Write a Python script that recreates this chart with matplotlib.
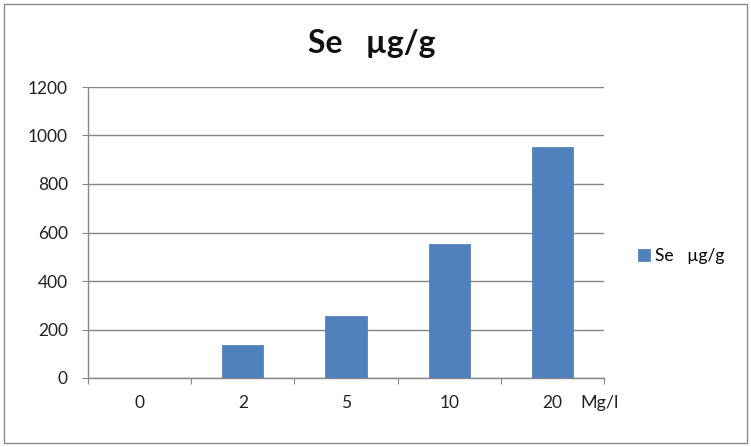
import matplotlib
matplotlib.use("Agg")
import matplotlib.pyplot as plt
from matplotlib.patches import Rectangle

categories = ["0", "2", "5", "10", "20"]
values = [0, 136, 256, 553, 953]
series_name = "Se   µg/g"
title = "Se   µg/g"
x_unit = "Mg/l"

plt.rcParams['font.family'] = ['Lato', 'DejaVu Sans']

fig = plt.figure(figsize=(7.51, 4.47), dpi=100)
fig.patch.set_facecolor("white")
fig.patches.append(Rectangle((4/751, 4/447), 743/751, 439/447, transform=fig.transFigure,
                             fill=False, edgecolor="#8c8c8c", linewidth=1.0))

ax = fig.add_axes([88/751, 1-378/447, 516/751, 291/447])
x = list(range(len(categories)))
bars = ax.bar(x, values, width=0.4, color="#4f81bd", edgecolor="#4a7ab5", linewidth=0.5,
              label=series_name, zorder=3)
ax.set_xlim(-0.5, len(categories) - 0.5)
ax.set_ylim(0, 1200)
ax.set_yticks(range(0, 1201, 200))
ax.yaxis.grid(True, color="#868686", linewidth=1.0, zorder=0)
ax.set_axisbelow(True)
for s in ["top", "right"]:
    ax.spines[s].set_visible(False)
for s in ["left", "bottom"]:
    ax.spines[s].set_color("#868686")
    ax.spines[s].set_linewidth(1.0)
ax.tick_params(axis="y", length=4.5, color="#868686", labelsize=12.5, pad=10, labelcolor="#222222")
# x ticks at category boundaries
ax.set_xticks([i - 0.5 for i in range(len(categories) + 1)])
ax.set_xticklabels([])
ax.tick_params(axis="x", length=4.5, color="#868686")
ax.set_xticks(x, minor=True)
ax.set_xticklabels(categories, minor=True)
ax.tick_params(axis="x", which="minor", length=0, labelsize=12.5, pad=12, labelcolor="#222222")

fig.text(600/751, 1-403/447, x_unit, fontsize=13, color="#222222", ha="center", va="center")
fig.text(372/751, 1-44/447, title, fontsize=23, fontweight="bold", ha="center", va="center",
         color="#111111")

leg = fig.legend(handles=[bars], labels=[series_name], loc="center left",
                 bbox_to_anchor=(622/751, 1-256/447), frameon=False, fontsize=12.5,
                 handlelength=0.7, handleheight=0.7, handletextpad=0.3)

fig.savefig("out.png", dpi=100)
